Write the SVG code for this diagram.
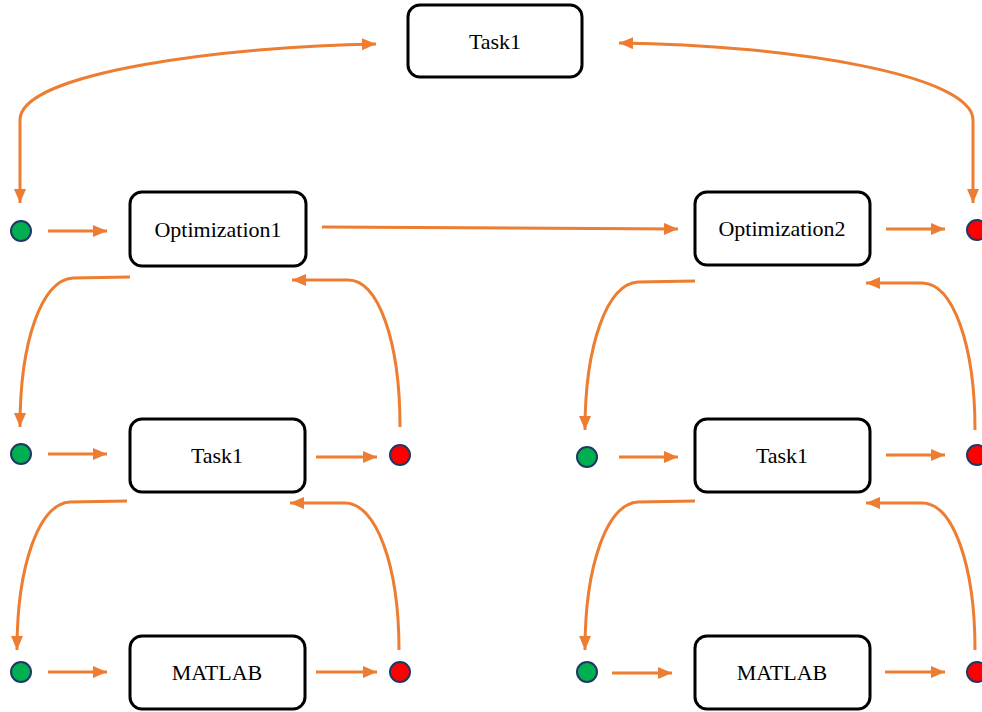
<svg xmlns="http://www.w3.org/2000/svg" width="982" height="712" viewBox="0 0 982 712">
<style>
.box{fill:#fff;stroke:#000;stroke-width:3}
.lbl{font-family:"Liberation Serif","Times New Roman",serif;font-size:22px;fill:#000;text-anchor:middle}
.g{fill:#00b050;stroke:#203864;stroke-width:2}
.r{fill:#ff0000;stroke:#203864;stroke-width:2}
.c{fill:none;stroke:#ed7d31;stroke-width:3;marker-end:url(#ah)}
.d{marker-start:url(#ah)}
</style>
<defs>
<marker id="ah" markerUnits="userSpaceOnUse" markerWidth="15" markerHeight="13" refX="14" refY="6" orient="auto-start-reverse">
<path d="M0,0 L14,6 L0,12 z" fill="#ed7d31"/>
</marker>
</defs>
<g id="connectors">
<path class="c d" d="M376,44 C230,46 20,72 20,120 L20,203"/>
<path class="c d" d="M619,43 C790,45 973,75 973,120 L973,203"/>
<path class="c" d="M48,231 L107,231"/>
<path class="c" d="M322,227 L678,229"/>
<path class="c" d="M886,229 L945,229"/>
<path class="c" d="M130,277 L73,278 C42,280 20,340 20,427"/>
<path class="c" d="M400,427 C400,340 378,280 348,280 L292,280"/>
<path class="c" d="M695,281 L638,282 C607,284 585,345 585,430"/>
<path class="c" d="M975,430 C975,345 953,283 922,283 L866,283"/>
<path class="c" d="M48,454 L107,454"/>
<path class="c" d="M316,457 L377,457"/>
<path class="c" d="M619,457 L678,457"/>
<path class="c" d="M886,455 L945,455"/>
<path class="c" d="M127,501 L70,502 C39,504 17,565 17,650"/>
<path class="c" d="M399,650 C399,565 376,503 345,503 L290,503"/>
<path class="c" d="M695,501 L638,502 C607,504 585,565 585,650"/>
<path class="c" d="M975,650 C975,565 953,503 922,503 L866,503"/>
<path class="c" d="M48,672 L107,672"/>
<path class="c" d="M316,672 L377,672"/>
<path class="c" d="M612,673 L672,673"/>
<path class="c" d="M885,672 L945,672"/>
</g>
<g id="n-task-top"><rect class="box" x="408" y="5" width="174" height="72" rx="12"/><text class="lbl" x="495" y="49">Task1</text></g>
<g id="n-opt1"><rect class="box" x="130" y="192" width="176" height="74" rx="12"/><text class="lbl" x="218" y="237">Optimization1</text></g>
<g id="n-opt2"><rect class="box" x="695" y="192" width="175" height="73" rx="12"/><text class="lbl" x="782" y="236">Optimization2</text></g>
<g id="n-task-l"><rect class="box" x="130" y="419" width="175" height="73" rx="12"/><text class="lbl" x="217" y="463">Task1</text></g>
<g id="n-task-r"><rect class="box" x="695" y="419" width="175" height="73" rx="12"/><text class="lbl" x="782" y="463">Task1</text></g>
<g id="n-matlab-l"><rect class="box" x="130" y="636" width="175" height="73" rx="12"/><text class="lbl" x="217" y="680">MATLAB</text></g>
<g id="n-matlab-r"><rect class="box" x="695" y="636" width="175" height="73" rx="12"/><text class="lbl" x="782" y="680">MATLAB</text></g>
<g id="n-g1"><circle class="g" cx="21" cy="231" r="10"/></g>
<g id="n-r1"><circle class="r" cx="977" cy="230" r="10"/></g>
<g id="n-g2"><circle class="g" cx="21" cy="454" r="10"/></g>
<g id="n-r2"><circle class="r" cx="400" cy="455" r="10"/></g>
<g id="n-g3"><circle class="g" cx="587" cy="457" r="10"/></g>
<g id="n-r3"><circle class="r" cx="977" cy="455" r="10"/></g>
<g id="n-g4"><circle class="g" cx="21" cy="672" r="10"/></g>
<g id="n-r4"><circle class="r" cx="400" cy="672" r="10"/></g>
<g id="n-g5"><circle class="g" cx="587" cy="672" r="10"/></g>
<g id="n-r5"><circle class="r" cx="977" cy="672" r="10"/></g>
</svg>
